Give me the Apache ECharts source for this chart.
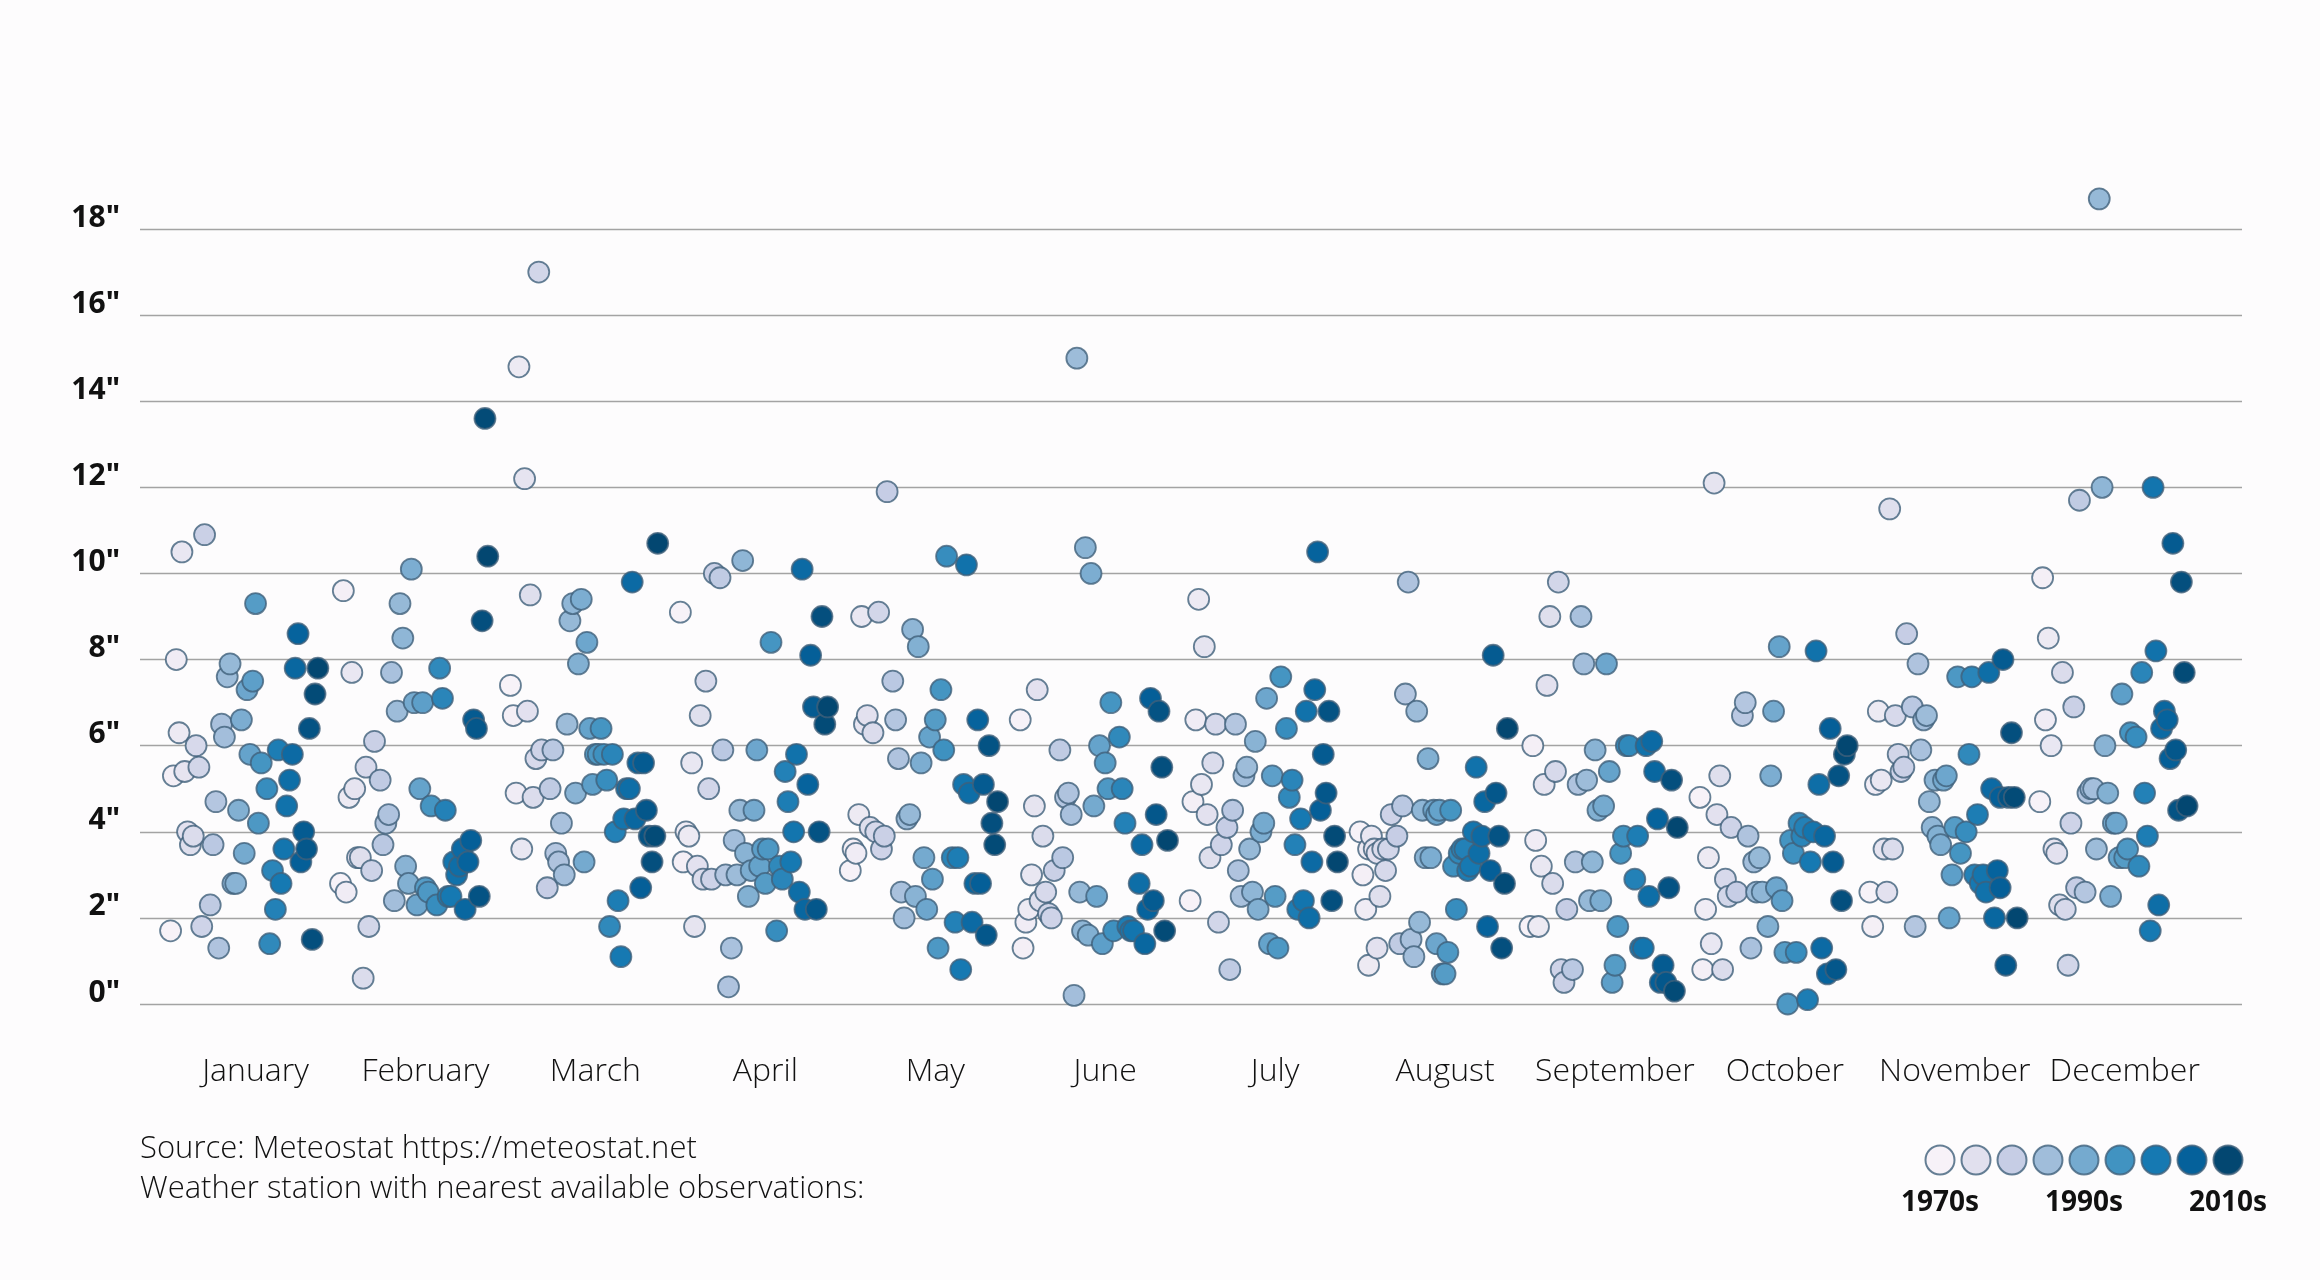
<!DOCTYPE html>
<html><head><meta charset="utf-8">
<script src="https://cdn.jsdelivr.net/npm/echarts@6/dist/echarts.min.js"></script>
<style>html,body{margin:0;padding:0;background:#fdfcfd}#c{width:2320px;height:1280px}</style>
</head><body><div id="c"></div><script>
// ---- data: [year, inches of precipitation] per month ----
const MONTHS = ['January','February','March','April','May','June','July','August','September','October','November','December'];
const FIRST_YEAR = 1970, LAST_YEAR = 2022;
const Y_TICKS = [0,2,4,6,8,10,12,14,16,18];
const LEGEND_LABELS = ['1970s','','','','1990s','','','','2010s'];
const DECADE_COLORS = ['#f7f2f8','#e1e0ee','#c6cde5','#a0bdda','#75aacf','#4193c1','#1679b2','#05619b','#034771'];

const jan = [[1974,10.5],[1982,10.9],[2000,9.3],[1972,8.0],[1991,7.9],[1990,7.6],[1999,7.5],[1997,7.3],[2014,7.8],[2022,7.8],[2021,7.2],[2015,8.6],[2019,6.4],[1973,6.3],[1988,6.5],[1995,6.6],[1989,6.2],[1979,6.0],[1998,5.8],[2002,5.6],[2008,5.9],[2013,5.8],[1971,5.3],[1975,5.4],[1980,5.5],[2004,5.0],[2012,5.2],[1986,4.7],[1994,4.5],[2001,4.2],[2011,4.6],[1976,4.0],[1977,3.7],[1978,3.9],[1985,3.7],[1996,3.5],[2010,3.6],[2017,4.0],[2018,3.6],[2016,3.3],[2006,3.1],[2009,2.8],[1992,2.8],[1993,2.8],[1984,2.3],[2007,2.2],[1970,1.7],[1981,1.8],[1987,1.3],[2005,1.4],[2020,1.5]];
const feb = [[1971,9.6],[1991,9.3],[1995,10.1],[2021,13.6],[2022,10.4],[2020,8.9],[1992,8.5],[1974,7.7],[1988,7.7],[2005,7.8],[2006,7.1],[1990,6.8],[1996,7.0],[1999,7.0],[2017,6.6],[2018,6.4],[1982,6.1],[1979,5.5],[1984,5.2],[1973,4.8],[1975,5.0],[1998,5.0],[2002,4.6],[2007,4.5],[1987,4.4],[1986,4.2],[1985,3.7],[1976,3.4],[1977,3.4],[1981,3.1],[1993,3.2],[1994,2.8],[2000,2.7],[2001,2.6],[2010,3.3],[2012,3.2],[2013,3.6],[2016,3.8],[2015,3.3],[2011,3.0],[1970,2.8],[1972,2.6],[1989,2.4],[1997,2.3],[2004,2.3],[2009,2.5],[2008,2.5],[2014,2.2],[2019,2.5],[1980,1.8],[1978,0.6]];
const mar = [[1980,17.0],[1973,14.8],[1975,12.2],[2022,10.7],[2013,9.8],[1977,9.5],[1992,9.3],[1995,9.4],[1991,8.9],[1997,8.4],[1994,7.9],[1970,7.4],[1971,6.7],[1976,6.8],[1990,6.5],[1998,6.4],[2002,6.4],[2000,5.8],[2001,5.8],[2003,5.8],[2006,5.8],[1979,5.7],[1981,5.9],[1985,5.9],[2015,5.6],[2017,5.6],[1972,4.9],[1978,4.8],[1984,5.0],[1993,4.9],[1999,5.1],[2004,5.2],[2011,5.0],[2012,5.0],[1988,4.2],[2007,4.0],[2010,4.3],[2014,4.3],[2018,4.5],[2019,3.9],[2021,3.9],[1974,3.6],[1986,3.5],[1987,3.3],[1989,3.0],[1996,3.3],[1983,2.7],[2020,3.3],[2016,2.7],[2008,2.4],[2005,1.8],[2009,1.1]];
const apr = [[1970,9.1],[1979,7.5],[1977,6.7],[1982,10.0],[1984,9.9],[1992,10.3],[2013,10.1],[2020,9.0],[2002,8.4],[2016,8.1],[2017,6.9],[2022,6.9],[2021,6.5],[1985,5.9],[1997,5.9],[2011,5.8],[2007,5.4],[2015,5.1],[1974,5.6],[1980,5.0],[2008,4.7],[1991,4.5],[1996,4.5],[2010,4.0],[2019,4.0],[1972,4.0],[1973,3.9],[1989,3.8],[1993,3.5],[1999,3.6],[2001,3.6],[2005,3.2],[2009,3.3],[1971,3.3],[1976,3.2],[1978,2.9],[1981,2.9],[1986,3.0],[1990,3.0],[1995,3.1],[1998,3.2],[1994,2.5],[2000,2.8],[2006,2.9],[2012,2.6],[2014,2.2],[2018,2.2],[1975,1.8],[1988,1.3],[1987,0.4],[2004,1.7]];
const may = [[1983,11.9],[2004,10.4],[2011,10.2],[1974,9.0],[1980,9.1],[1992,8.7],[1994,8.3],[1985,7.5],[2002,7.3],[1975,6.5],[1976,6.7],[1978,6.3],[1986,6.6],[2000,6.6],[1998,6.2],[2003,5.9],[2015,6.6],[2019,6.0],[1987,5.7],[1995,5.6],[2010,5.1],[2012,4.9],[2017,5.1],[2022,4.7],[2020,4.2],[2021,3.7],[1973,4.4],[1977,4.1],[1979,4.0],[1982,3.9],[1981,3.6],[1971,3.6],[1972,3.5],[1970,3.1],[1990,4.3],[1991,4.4],[1996,3.4],[1999,2.9],[2006,3.4],[2008,3.4],[2014,2.8],[2016,2.8],[1988,2.6],[1993,2.5],[1997,2.2],[1989,2.0],[2007,1.9],[2013,1.9],[2018,1.6],[2001,1.3],[2009,0.8]];
const jun = [[1990,15.0],[1993,10.6],[1995,10.0],[1976,7.3],[1970,6.6],[1984,5.9],[2016,7.1],[2019,6.8],[2002,7.0],[2005,6.2],[1998,6.0],[2000,5.6],[2001,5.0],[2006,5.0],[2020,5.5],[1975,4.6],[1986,4.8],[1987,4.9],[1988,4.4],[1996,4.6],[2007,4.2],[2018,4.4],[2013,3.7],[2022,3.8],[1978,3.9],[1985,3.4],[1982,3.1],[1974,3.0],[1973,2.2],[1972,1.9],[1971,1.3],[1977,2.4],[1979,2.6],[1980,2.1],[1981,2.0],[1991,2.6],[1997,2.5],[1992,1.7],[1994,1.6],[1999,1.4],[2003,1.7],[2008,1.8],[2009,1.7],[2010,1.7],[2014,1.4],[2012,2.8],[2015,2.2],[2017,2.4],[2021,1.7],[1989,0.2]];
const jul = [[2015,10.5],[1973,9.4],[1975,8.3],[2002,7.6],[1997,7.1],[2014,7.3],[2011,6.8],[2019,6.8],[1972,6.6],[1979,6.5],[1986,6.5],[1993,6.1],[2004,6.4],[2017,5.8],[1978,5.6],[1989,5.3],[1990,5.5],[1999,5.3],[2006,5.2],[1974,5.1],[2005,4.8],[2018,4.9],[1971,4.7],[1976,4.4],[1985,4.5],[1983,4.1],[1981,3.7],[1996,4.2],[1995,4.0],[2009,4.3],[2016,4.5],[2021,3.9],[2022,3.3],[1977,3.4],[1991,3.6],[1987,3.1],[2007,3.7],[2013,3.3],[1970,2.4],[1988,2.5],[1992,2.6],[1994,2.2],[2000,2.5],[2008,2.2],[2010,2.4],[2012,2.0],[2020,2.4],[1980,1.9],[1998,1.4],[2001,1.3],[1984,0.8]];
const aug = [[1987,9.8],[2017,8.1],[1986,7.2],[1990,6.8],[2022,6.4],[1994,5.7],[2011,5.5],[2014,4.7],[2018,4.9],[1970,4.0],[1974,3.9],[1973,3.6],[1975,3.6],[1976,3.5],[1978,3.6],[1980,3.6],[1981,4.4],[1985,4.6],[1983,3.9],[1979,3.1],[1971,3.0],[1972,2.2],[1977,2.5],[1973,0.9],[1976,1.3],[1984,1.4],[1988,1.5],[1989,1.1],[1991,1.9],[1992,4.5],[1996,4.5],[1998,4.5],[2002,4.5],[1997,4.4],[1993,3.4],[1995,3.4],[1997,1.4],[1999,0.7],[2000,0.7],[2001,1.2],[2004,2.2],[2005,3.5],[2006,3.6],[2007,3.6],[2003,3.2],[2008,3.1],[2009,3.2],[2010,4.0],[2012,3.5],[2013,3.9],[2016,3.1],[2019,3.9],[2021,2.8],[2015,1.8],[2020,1.3]];
const sep = [[1980,9.8],[1977,9.0],[1988,9.0],[1989,7.9],[1997,7.9],[1976,7.4],[1971,6.0],[1993,5.9],[2004,6.0],[2005,6.0],[2011,6.0],[2013,6.1],[1998,5.4],[2014,5.4],[2020,5.2],[2022,4.1],[2015,4.3],[1975,5.1],[1979,5.4],[1987,5.1],[1990,5.2],[1994,4.5],[1996,4.6],[2003,3.9],[2008,3.9],[2002,3.5],[1972,3.8],[1974,3.2],[1978,2.8],[1986,3.3],[1992,3.3],[1983,2.2],[1991,2.4],[1995,2.4],[2007,2.9],[2012,2.5],[2019,2.7],[1970,1.8],[1973,1.8],[2001,1.8],[1981,0.8],[1982,0.5],[1985,0.8],[1999,0.5],[2000,0.9],[2009,1.3],[2010,1.3],[2017,0.9],[2016,0.5],[2018,0.5],[2021,0.3]];
const oct = [[1975,12.1],[1986,7.0],[1985,6.7],[1996,6.8],[1998,8.3],[2011,8.2],[2016,6.4],[2022,6.0],[2021,5.8],[2019,5.3],[2012,5.1],[1970,4.8],[1977,5.3],[1995,5.3],[1976,4.4],[1981,4.1],[1987,3.9],[1973,3.4],[1979,2.9],[1983,2.6],[1980,2.5],[1989,3.3],[1991,3.4],[1990,2.6],[1992,2.6],[1997,2.7],[1999,2.4],[1994,1.8],[2002,3.8],[2003,3.5],[2005,4.2],[2006,3.9],[2007,4.1],[2010,4.0],[2009,3.3],[2014,3.9],[2017,3.3],[2020,2.4],[1972,2.2],[1974,1.4],[1971,0.8],[1978,0.8],[1988,1.3],[2000,1.2],[2004,1.2],[2013,1.3],[2015,0.7],[2018,0.8],[2001,0.0],[2008,0.1]];
const nov = [[1977,11.5],[1983,8.6],[1987,7.9],[2001,7.6],[2006,7.6],[2012,7.7],[2017,8.0],[1973,6.8],[1979,6.7],[1985,6.9],[1989,6.6],[1990,6.7],[2020,6.3],[1980,5.8],[1988,5.9],[2005,5.8],[1972,5.1],[1974,5.2],[1981,5.4],[1982,5.5],[1993,5.2],[1996,5.2],[1997,5.3],[1991,4.7],[2013,5.0],[2016,4.8],[2019,4.8],[2021,4.8],[2008,4.4],[1992,4.1],[1994,3.9],[1995,3.7],[2000,4.1],[2004,4.0],[2002,3.5],[1975,3.6],[1978,3.6],[1999,3.0],[2007,3.0],[2010,3.0],[2015,3.1],[2009,2.8],[2011,2.6],[2016,2.7],[1970,2.6],[1976,2.6],[1971,1.8],[1986,1.8],[1998,2.0],[2014,2.0],[2022,2.0],[2018,0.9]];
const dec = [[1991,18.7],[1992,12.0],[1984,11.7],[2010,12.0],[2017,10.7],[2020,9.8],[1971,9.9],[1973,8.5],[2011,8.2],[1978,7.7],[2006,7.7],[2021,7.7],[1999,7.2],[1982,6.9],[1972,6.6],[1974,6.0],[1993,6.0],[2002,6.3],[2004,6.2],[2014,6.8],[2015,6.6],[2013,6.4],[2018,5.9],[2016,5.7],[1970,4.7],[1987,4.9],[1988,5.0],[1989,5.0],[1994,4.9],[2007,4.9],[2019,4.5],[2022,4.6],[1981,4.2],[1996,4.2],[1997,4.2],[2008,3.9],[1975,3.6],[1976,3.5],[1990,3.6],[1998,3.4],[2001,3.6],[2000,3.4],[2005,3.2],[1983,2.7],[1986,2.6],[1995,2.5],[2012,2.3],[2009,1.7],[1977,2.3],[1979,2.2],[1980,0.9]];

const MONTH_DATA = [jan,feb,mar,apr,may,jun,jul,aug,sep,oct,nov,dec];

// x = month index + position of the year inside the month's band
const YEARS_PER_MONTH_UNIT = 60;
const points = [];
MONTH_DATA.forEach((arr, m) => {
  arr.forEach(([yr, v]) => points.push([m + (yr - FIRST_YEAR) / YEARS_PER_MONTH_UNIT, v, yr]));
});
points.sort((a, b) => a[2] - b[2]);

const chart = echarts.init(document.getElementById('c'), null, {renderer: 'canvas'});
const BORDER = 'rgba(64,96,122,0.8)';
const LIGHT_FONT = '"Open Sans", Lato, sans-serif';

const legendGraphics = [];
DECADE_COLORS.forEach((c, k) => {
  const cx = 1940 + 36 * k;
  legendGraphics.push({type: 'circle', shape: {cx: cx, cy: 1160, r: 14.5}, style: {fill: c, stroke: BORDER, lineWidth: 2}, silent: true});
  if (LEGEND_LABELS[k]) {
    legendGraphics.push({type: 'text', x: cx, y: 1203, style: {text: LEGEND_LABELS[k], fill: '#111', font: 'bold 28px "Noto Sans"', align: 'center', verticalAlign: 'middle'}, silent: true});
  }
});

chart.setOption({
  animation: false,
  backgroundColor: '#fdfcfd',
  grid: {left: 140, right: 78, top: 229, bottom: 276},
  xAxis: {
    type: 'value', min: -0.18, max: 12.19,
    axisLine: {show: false}, axisTick: {show: false}, splitLine: {show: false},
    axisLabel: {
      customValues: MONTHS.map((_, i) => i + 0.5),
      formatter: v => MONTHS[Math.round(v - 0.5)] || '',
      color: '#111', fontSize: 32, fontFamily: LIGHT_FONT, fontWeight: 300, margin: 52
    }
  },
  yAxis: {
    type: 'value', min: 0, max: 18, interval: 2,
    axisLine: {show: false}, axisTick: {show: false},
    splitLine: {show: true, lineStyle: {color: '#a3a3a3', width: 1.3}},
    axisLabel: {
      formatter: v => Y_TICKS.includes(v) ? v + '"' : '',
      color: '#111', fontSize: 30, fontWeight: 'bold', fontFamily: 'Noto Sans', margin: 20,
      verticalAlign: 'bottom', lineHeight: 22
    }
  },
  visualMap: {
    show: false, type: 'continuous', dimension: 2, min: FIRST_YEAR, max: LAST_YEAR,
    seriesIndex: 0, inRange: {color: DECADE_COLORS}
  },
  series: [{
    type: 'scatter', data: points, symbol: 'circle', symbolSize: 21, clip: false, silent: true,
    itemStyle: {borderColor: BORDER, borderWidth: 1.8, opacity: 1}
  }],
  graphic: [
    {type: 'text', left: 140, top: 1134, style: {text: 'Source: Meteostat https://meteostat.net', fill: '#111', font: '300 31px ' + LIGHT_FONT}, silent: true},
    {type: 'text', left: 140, top: 1174, style: {text: 'Weather station with nearest available observations:', fill: '#111', font: '300 31px ' + LIGHT_FONT}, silent: true}
  ].concat(legendGraphics)
});
</script></body></html>
